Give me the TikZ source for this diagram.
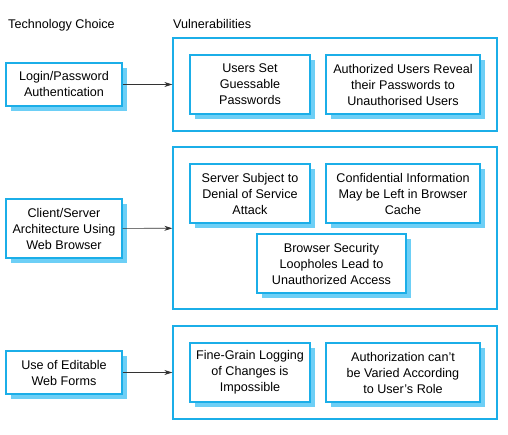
\documentclass[tikz,border=0pt]{standalone}
\usepackage{fontspec}
\setmainfont{Liberation Sans}
\usetikzlibrary{arrows.meta}
\usetikzlibrary{shadows}
\definecolor{boxblue}{RGB}{27,174,232}
\definecolor{shadowblue}{RGB}{109,207,246}

\begin{document}
\begin{tikzpicture}[x = 1pt, y = -1pt, font=\fontsize{12.6}{16}\selectfont]
	\tikzstyle{techStyle}=[draw = boxblue, line width = 1.3pt, fill = white, align = center, inner sep = 0pt, minimum width = 116pt,
		general shadow = {shadow xshift = 5pt, shadow yshift = -5pt, fill = shadowblue}]
	\tikzstyle{vulnStyle}=[techStyle, minimum height = 59pt]
	\tikzstyle{groupStyle}=[draw = boxblue, line width = 1.3pt, minimum width = 324pt, inner sep = 0pt]
	\tikzstyle{headStyle}=[anchor = base west, inner sep = 0pt]
	\tikzstyle{EdgeStyle}=[draw = black!80, line width = 0.7pt, -{Stealth[length = 8pt, width = 5pt]}]
	\useasboundingbox (0, 0) rectangle (508, 435);
	% headings
	\node[headStyle] (h0) at (8, 29) {Technology Choice};
	\node[headStyle] (h1) at (173, 29) {Vulnerabilities};
	% technology choices
	\node[techStyle, minimum height = 43pt] (t0) at (64, 84.5) {Login/Password\\Authentication};
	\node[techStyle, minimum height = 59pt] (t1) at (64, 228.5) {Client/Server\\Architecture Using\\Web Browser};
	\node[techStyle, minimum height = 43pt] (t2) at (64, 372.5) {Use of Editable\\Web Forms};
	% vulnerability groups
	\node[groupStyle, minimum height = 93pt] (g0) at (335, 84.5) {};
	\node[groupStyle, minimum height = 162pt] (g1) at (335, 228) {};
	\node[groupStyle, minimum height = 93pt] (g2) at (335, 372.5) {};
	% vulnerabilities
	\node[vulnStyle, minimum width = 120pt] (v0) at (250, 84.5) {Users Set\\Guessable\\Passwords};
	\node[vulnStyle, minimum width = 154pt] (v1) at (403, 84.5) {Authorized Users Reveal\\their Passwords to\\Unauthorised Users};
	\node[vulnStyle, minimum width = 120pt] (v2) at (250, 193.5) {Server Subject to\\Denial of Service\\Attack};
	\node[vulnStyle, minimum width = 154pt] (v3) at (403, 193.5) {Confidential Information\\May be Left in Browser\\Cache};
	\node[vulnStyle, minimum width = 149pt] (v4) at (331.5, 263.5) {Browser Security\\Loopholes Lead to\\Unauthorized Access};
	\node[vulnStyle, minimum width = 120pt] (v5) at (250, 372.5) {Fine-Grain Logging\\of Changes is\\Impossible};
	\node[vulnStyle, minimum width = 154pt] (v6) at (403, 372.5) {Authorization can’t\\be Varied According\\to User’s Role};
	% arrows
	\draw[EdgeStyle] (t0) -- (g0);
	\draw[EdgeStyle] (t1) -- (g1);
	\draw[EdgeStyle] (t2) -- (g2);
\end{tikzpicture}
\end{document}
